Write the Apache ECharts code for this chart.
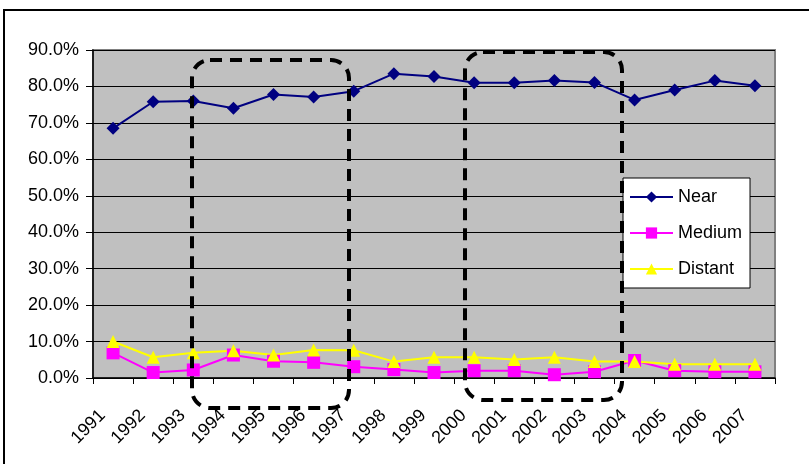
<!DOCTYPE html>
<html>
<head>
<meta charset="utf-8">
<script src="https://cdn.jsdelivr.net/npm/echarts@6/dist/echarts.min.js"></script>
<style>
  html, body { margin: 0; padding: 0; background: #fff; }
  #chart { width: 809px; height: 464px; }
</style>
</head>
<body>
<div id="chart"></div>
<script>
const years = ['1991','1992','1993','1994','1995','1996','1997','1998','1999','2000','2001','2002','2003','2004','2005','2006','2007'];
const nearValues = [68.5, 75.8, 76.0, 74.0, 77.8, 77.1, 78.7, 83.5, 82.7, 81.0, 81.0, 81.6, 81.1, 76.3, 79.0, 81.6, 80.2];
const mediumValues = [6.9, 1.5, 2.2, 6.3, 4.6, 4.3, 3.1, 2.3, 1.5, 2.0, 2.0, 0.9, 1.7, 4.8, 2.0, 1.7, 1.7];
const distantValues = [10.0, 5.7, 6.9, 7.5, 6.3, 7.7, 7.6, 4.5, 5.7, 5.7, 5.1, 5.7, 4.5, 4.5, 3.8, 3.8, 3.8];
const yTicks = { min: 0, max: 90, step: 10 };

const FONT = 'Liberation Sans, Arial, sans-serif';
const chart = echarts.init(document.getElementById('chart'), null, { renderer: 'canvas' });

function mkSeries(name, data, color, symbol, size) {
  return {
    name, type: 'line', data, symbol, symbolSize: size,
    lineStyle: { color, width: 2 },
    itemStyle: { color, borderWidth: 0 },
    emphasis: { disabled: true },
    animation: false, z: 3
  };
}

chart.setOption({
  animation: false,
  backgroundColor: '#ffffff',
  textStyle: { fontFamily: FONT },
  grid: { left: 93, top: 50, width: 682, height: 328, show: true, backgroundColor: '#c0c0c0', borderColor: '#808080', borderWidth: 2 },
  xAxis: {
    type: 'category', data: years, boundaryGap: true,
    axisLine: { lineStyle: { color: '#000', width: 1.5 } },
    axisTick: { show: true, length: 6, lineStyle: { color: '#000' }, alignWithLabel: false },
    axisLabel: { rotate: 45, margin: 24, padding: [0, 15, 0, 0], fontSize: 18, color: '#000', fontFamily: FONT, interval: 0 },
    splitLine: { show: false }
  },
  yAxis: {
    type: 'value', min: yTicks.min, max: yTicks.max, interval: yTicks.step,
    axisLine: { show: true, lineStyle: { color: '#000', width: 1.5 } },
    axisTick: { show: true, length: 7, lineStyle: { color: '#000' } },
    axisLabel: { margin: 14, fontSize: 18, color: '#000', fontFamily: FONT, formatter: v => v.toFixed(1) + '%' },
    splitLine: { show: true, lineStyle: { color: '#000', width: 1 } }
  },
  legend: {
    orient: 'vertical', left: 623, top: 178,
    backgroundColor: '#ffffff', borderColor: '#000', borderWidth: 1,
    padding: [10, 8, 10, 6], itemGap: 18, itemWidth: 43, itemHeight: 14,
    textStyle: { fontSize: 18, color: '#000', fontFamily: FONT, padding: [0, 0, 0, 0] },
    data: ['Near', 'Medium', 'Distant']
  },
  series: [
    mkSeries('Near', nearValues, '#000080', 'diamond', 13),
    mkSeries('Medium', mediumValues, '#ff00ff', 'rect', 13),
    mkSeries('Distant', distantValues, '#ffff00', 'triangle', 13)
  ],
  graphic: [
    { type: 'rect', z: 100, silent: true, shape: { x: 4, y: 10, width: 900, height: 600 }, style: { fill: 'none', stroke: '#000', lineWidth: 2 } },
    { type: 'rect', z: 100, silent: true, shape: { x: 192, y: 60, width: 157, height: 348, r: 18 }, style: { fill: 'none', stroke: '#000', lineWidth: 4, lineDash: [12, 8] } },
    { type: 'rect', z: 100, silent: true, shape: { x: 465, y: 52, width: 157, height: 348, r: 18 }, style: { fill: 'none', stroke: '#000', lineWidth: 4, lineDash: [12, 8] } }
  ]
});
</script>
</body>
</html>
